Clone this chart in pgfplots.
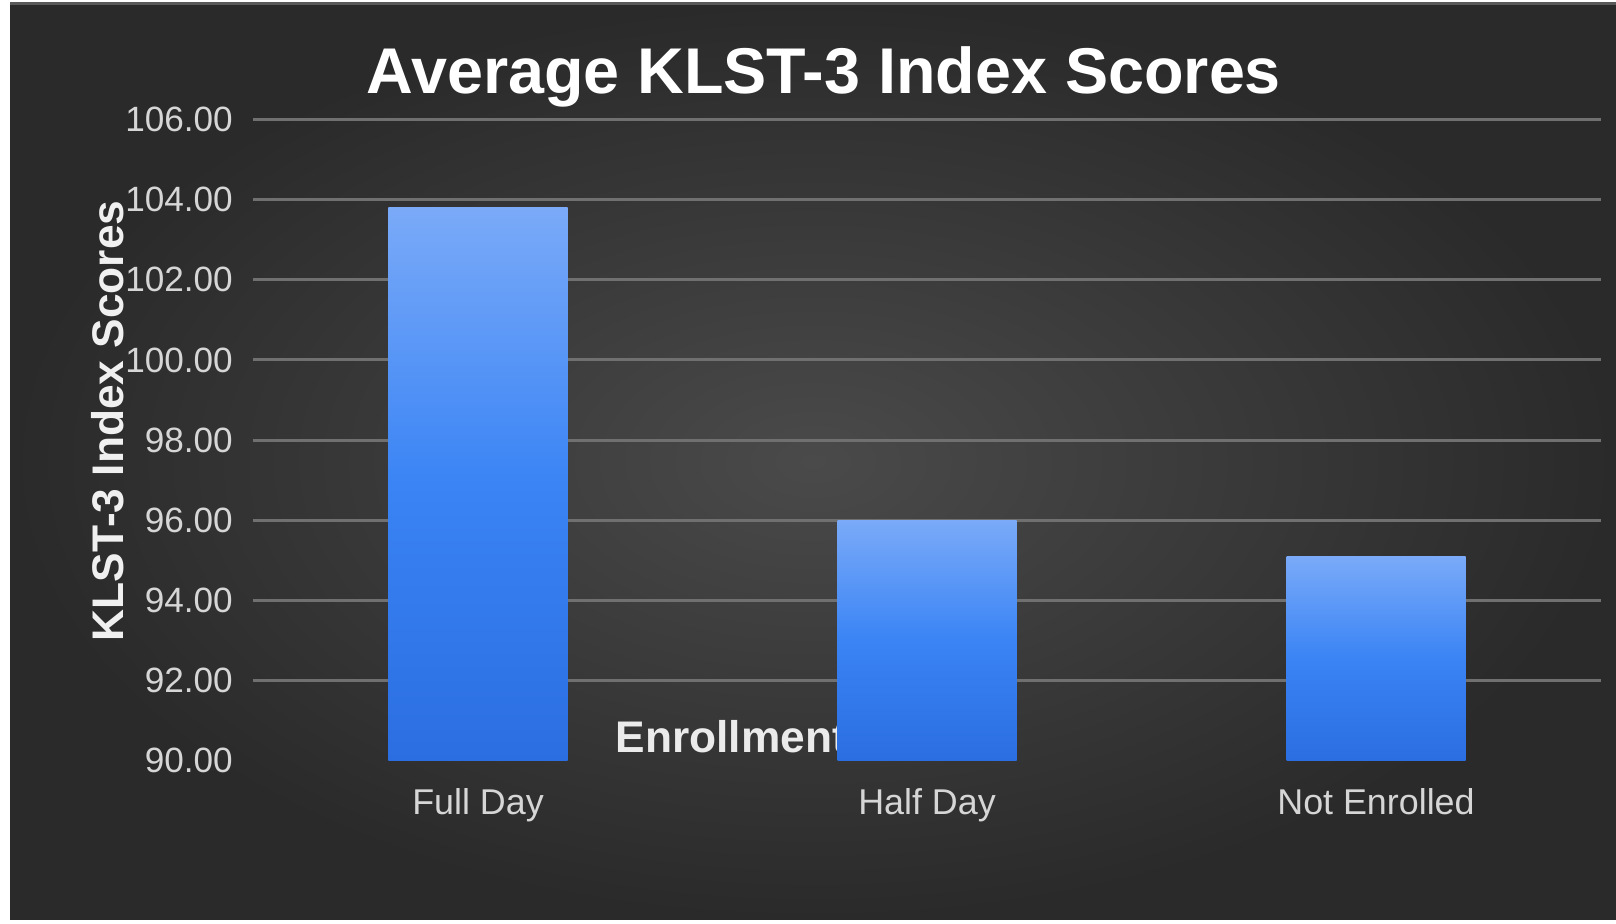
\documentclass[border=0pt]{standalone}
\usepackage{pgfplots}
\pgfplotsset{compat=1.18}
\usepackage{fontspec}
\setmainfont{Liberation Sans}
\definecolor{bgin}{HTML}{4A4A4A}
\definecolor{bgout}{HTML}{2A2A2A}
\definecolor{gridc}{HTML}{707070}
\definecolor{barTop}{HTML}{7AAAF8}
\definecolor{barMid}{HTML}{3A84F5}
\definecolor{barBot}{HTML}{2B6EE2}
\definecolor{ticklab}{HTML}{D6D6D6}
\begin{document}
\begin{tikzpicture}
\path[fill=white] (0,0) rectangle (16.16cm,9.24cm);
\shade[inner color=bgin, outer color=bgout] (0.1cm,0.04cm) rectangle (16.16cm,9.21cm);
\fill[gray!70!black] (0.1cm,9.19cm) rectangle (16.16cm,9.215cm);
\begin{axis}[
  at={(2.535cm,1.634cm)}, anchor=south west,
  scale only axis, width=13.47cm, height=6.411cm,
  xmin=-0.5, xmax=2.5, ymin=90, ymax=106,
  clip=false,
  axis line style={draw=none},
  tick style={draw=none},
  major tick length=0pt,
  xtick={0,1,2},
  xticklabels={Full Day, Half Day, Not Enrolled},
  ytick={92,94,...,106},
  extra y ticks={90},
  extra y tick style={grid=none},
  ymajorgrids,
  grid style={gridc, line width=0.85pt},
  /pgf/number format/assume math mode=true,
  yticklabel style={/pgf/number format/.cd, fixed, fixed zerofill, precision=2, /tikz/.cd,
    font=\fontsize{10}{12}\selectfont, text=ticklab, inner sep=0pt, anchor=east, xshift=-0.2cm},
  xticklabel style={font=\fontsize{10.2}{12}\selectfont, text=ticklab, inner sep=0pt, anchor=north, yshift=-0.27cm},
  every axis title shift=0pt,
  title={Average KLST-3 Index Scores},
  title style={font=\bfseries\fontsize{18.4}{22}\selectfont, text=white, at={(axis description cs:0.4235,1.066)}, anchor=center, inner sep=0pt},
  ylabel={KLST-3 Index Scores},
  ylabel style={font=\bfseries\fontsize{12.6}{15}\selectfont, text=white!94!black, at={(axis description cs:-0.108,0.53)}, anchor=center, inner sep=0pt},
  barsty/.style={ybar, bar width=1.79cm, bar shift=0pt, draw=none, top color=barTop, bottom color=barBot, middle color=barMid},
]
\node[font=\bfseries\fontsize{12.6}{15}\selectfont, text=white!92!black, anchor=west, inner sep=0pt] at (axis description cs:0.2684,0.037) {Enrollment};
\addplot[barsty] coordinates {(0,103.8)};
\addplot[barsty] coordinates {(1,96.0)};
\addplot[barsty] coordinates {(2,95.1)};
\end{axis}
\end{tikzpicture}
\end{document}
